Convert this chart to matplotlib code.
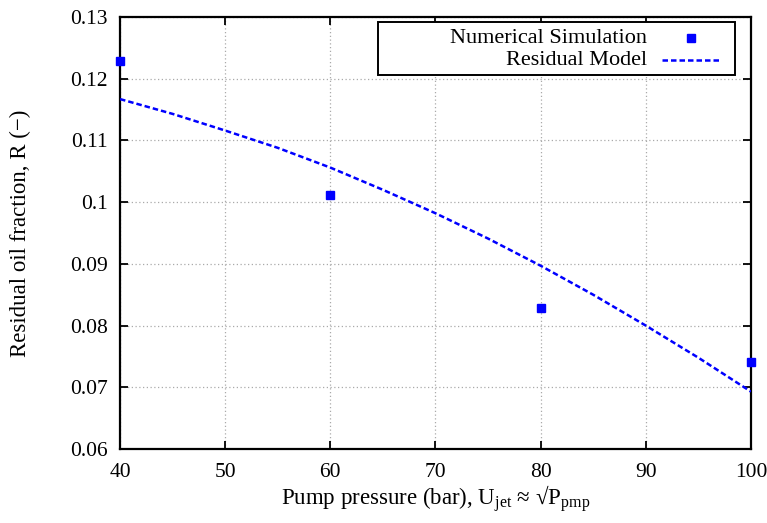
import numpy as np
import matplotlib
matplotlib.use("Agg")
import matplotlib.pyplot as plt
from matplotlib.patches import Rectangle
from matplotlib.ticker import FormatStrFormatter

# simulation points
sim_p = [40, 60, 80, 100]
sim_r = [0.1228, 0.1012, 0.0829, 0.0741]

# residual model curve
mod_p = [40, 45, 50, 55, 60, 65, 70, 75, 80, 85, 90, 95, 100]
mod_r = [0.1167, 0.1143, 0.1116, 0.1088, 0.1056, 0.1020, 0.0982, 0.0941, 0.0897, 0.0850, 0.0800, 0.0748, 0.0693]

xticks = [40, 50, 60, 70, 80, 90, 100]
yticks = [0.06, 0.07, 0.08, 0.09, 0.1, 0.11, 0.12, 0.13]

plt.rcParams['font.family'] = ['Liberation Serif', 'DejaVu Serif']
plt.rcParams['mathtext.fontset'] = 'custom'
plt.rcParams['mathtext.rm'] = 'Liberation Serif'
plt.rcParams['mathtext.it'] = 'Liberation Serif:italic'

fig = plt.figure(figsize=(7.67, 5.23), dpi=100)
ax = fig.add_axes([0.1565, 0.1415, 0.8225, 0.826])

ax.plot(mod_p, mod_r, color='#0000ff', lw=1.8, dashes=(2.2, 1.2), zorder=3)
ax.plot(sim_p, sim_r, 's', color='#0000ff', ms=5.5, clip_on=False, zorder=4)

ax.set_xlim(40, 100)
ax.set_ylim(0.06, 0.13)
ax.set_xticks(xticks)
ax.set_yticks(yticks)
ax.yaxis.set_major_formatter(FormatStrFormatter('%g'))
ax.tick_params(direction='in', length=6, width=1.3, top=True, right=True,
               labelsize=15.5)
ax.tick_params(axis='x', pad=10)
ax.tick_params(axis='y', pad=9)
for s in ax.spines.values():
    s.set_linewidth(1.6)
ax.grid(True, color='#aaaaaa', ls=(0, (1, 2)), lw=0.9)

ax.set_xlabel(r'Pump pressure (bar), U$_{\mathrm{jet}}$ ≈ √P$_{\mathrm{pmp}}$', fontsize=16.5, labelpad=1)
ax.set_ylabel('Residual oil fraction, R (−)', fontsize=16.5)
ax.yaxis.set_label_coords(-0.141, 0.5)

# gnuplot-like key
tr = ax.transAxes
ax.add_patch(Rectangle((0.409, 0.866), 0.566, 0.122, transform=tr,
                       fill=True, fc='white', ec='black', lw=1.4, zorder=5))
ax.text(0.835, 0.950, 'Numerical Simulation', transform=tr, ha='right', va='center',
        fontsize=16, zorder=6)
ax.text(0.835, 0.900, 'Residual Model', transform=tr, ha='right', va='center',
        fontsize=16, zorder=6)
ax.plot([0.905], [0.952], 's', color='#0000ff', ms=5.5, transform=tr, zorder=6)
ax.plot([0.859, 0.952], [0.900, 0.900], color='#0000ff', lw=1.8, dashes=(2.2, 1.2),
        transform=tr, zorder=6)

fig.savefig('out.png', dpi=100)
